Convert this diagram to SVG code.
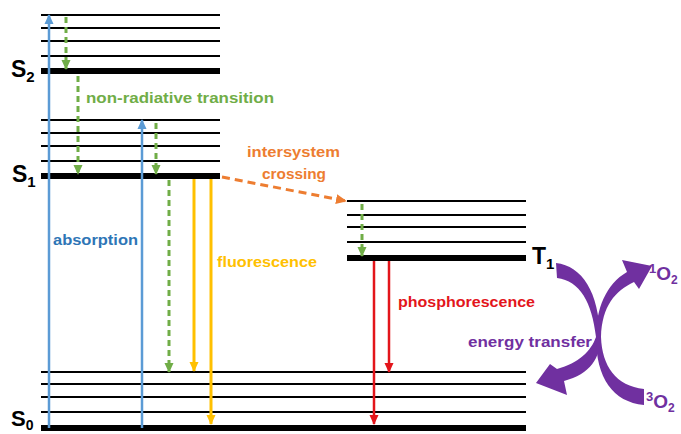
<svg xmlns="http://www.w3.org/2000/svg" width="681" height="434" viewBox="0 0 681 434">
  <style>
    .lvl { stroke: #000; stroke-width: 2; }
    .gnd { stroke: #000; stroke-width: 6; }
    .lbl { font-family: "Liberation Sans", Arial, sans-serif; font-weight: bold; fill: #000; }
    .oxy { font-family: "Liberation Sans", Arial, sans-serif; font-weight: bold; fill: #7030a0; }
    .txt { font-family: "Liberation Sans", Arial, sans-serif; font-weight: bold; font-size: 15.5px; }
    .abs { stroke: #5b9bd5; stroke-width: 2.5; fill: none; marker-end: url(#hBlue); }
    .nr { stroke: #70ad47; stroke-width: 3; stroke-dasharray: 6 4; fill: none; marker-end: url(#hGreen); }
    .fl { stroke: #ffc000; stroke-width: 3; fill: none; marker-end: url(#hYellow); }
    .ph { stroke: #e3151b; stroke-width: 2.5; fill: none; marker-end: url(#hRed); }
    .isc { stroke: #ed7d31; stroke-width: 3; stroke-dasharray: 8 5; fill: none; marker-end: url(#hOrange); }
    .et { fill: #7030a0; }
  </style>
  <defs>
    <marker id="hBlue" markerUnits="userSpaceOnUse" markerWidth="10" markerHeight="10" refX="9" refY="5" orient="auto">
      <path d="M0,0.5 L10,5 L0,9.5 Z" fill="#5b9bd5"/>
    </marker>
    <marker id="hGreen" markerUnits="userSpaceOnUse" markerWidth="10" markerHeight="10" refX="9" refY="5" orient="auto">
      <path d="M0,0.5 L10,5 L0,9.5 Z" fill="#70ad47"/>
    </marker>
    <marker id="hYellow" markerUnits="userSpaceOnUse" markerWidth="10" markerHeight="10" refX="9" refY="5" orient="auto">
      <path d="M0,0.5 L10,5 L0,9.5 Z" fill="#ffc000"/>
    </marker>
    <marker id="hRed" markerUnits="userSpaceOnUse" markerWidth="10" markerHeight="10" refX="9" refY="5" orient="auto">
      <path d="M0,0.5 L10,5 L0,9.5 Z" fill="#e3151b"/>
    </marker>
    <marker id="hOrange" markerUnits="userSpaceOnUse" markerWidth="11" markerHeight="11" refX="10" refY="5.5" orient="auto">
      <path d="M0,0.5 L11,5.5 L0,10.5 Z" fill="#ed7d31"/>
    </marker>
  </defs>

  <!-- singlet S2 manifold -->
  <g id="S2">
    <line class="lvl" x1="41" y1="15" x2="220" y2="15"/>
    <line class="lvl" x1="41" y1="28" x2="220" y2="28"/>
    <line class="lvl" x1="41" y1="41" x2="220" y2="41"/>
    <line class="lvl" x1="41" y1="56" x2="220" y2="56"/>
    <line class="gnd" x1="41" y1="71" x2="220" y2="71"/>
    <text class="lbl" x="11" y="77" font-size="23">S<tspan font-size="15" dy="5">2</tspan></text>
  </g>

  <!-- singlet S1 manifold -->
  <g id="S1">
    <line class="lvl" x1="41" y1="120" x2="220" y2="120"/>
    <line class="lvl" x1="41" y1="133" x2="220" y2="133"/>
    <line class="lvl" x1="41" y1="146" x2="220" y2="146"/>
    <line class="lvl" x1="41" y1="161" x2="220" y2="161"/>
    <line class="gnd" x1="41" y1="176" x2="220" y2="176"/>
    <text class="lbl" x="12" y="182" font-size="23">S<tspan font-size="15" dy="5">1</tspan></text>
  </g>

  <!-- triplet T1 manifold -->
  <g id="T1">
    <line class="lvl" x1="347" y1="201" x2="526" y2="201"/>
    <line class="lvl" x1="347" y1="215" x2="526" y2="215"/>
    <line class="lvl" x1="347" y1="227" x2="526" y2="227"/>
    <line class="lvl" x1="347" y1="242" x2="526" y2="242"/>
    <line class="gnd" x1="347" y1="258" x2="526" y2="258"/>
    <text class="lbl" x="532" y="264" font-size="23">T<tspan font-size="15" dy="5">1</tspan></text>
  </g>

  <!-- ground state S0 manifold -->
  <g id="S0">
    <line class="lvl" x1="41" y1="372" x2="526" y2="372"/>
    <line class="lvl" x1="41" y1="384" x2="526" y2="384"/>
    <line class="lvl" x1="41" y1="397" x2="526" y2="397"/>
    <line class="lvl" x1="41" y1="412" x2="526" y2="412"/>
    <line class="gnd" x1="41" y1="428" x2="526" y2="428"/>
    <text class="lbl" x="11" y="426" font-size="22">S<tspan font-size="14" dy="4">0</tspan></text>
  </g>

  <!-- oxygen states -->
  <g id="O2-singlet">
    <text class="oxy" x="649" y="280" font-size="19"><tspan font-size="13" dy="-7">1</tspan><tspan dy="7">O</tspan><tspan font-size="12" dy="4">2</tspan></text>
  </g>
  <g id="O2-triplet">
    <text class="oxy" x="646" y="408" font-size="19"><tspan font-size="13" dy="-7">3</tspan><tspan dy="7">O</tspan><tspan font-size="12" dy="4">2</tspan></text>
  </g>

  <!-- transitions -->
  <g id="connectors">
    <line class="abs" x1="49" y1="428" x2="49" y2="15"/>
    <line class="abs" x1="142" y1="428" x2="142" y2="120"/>

    <line class="nr" x1="66" y1="17" x2="66" y2="69"/>
    <line class="nr" x1="78" y1="76" x2="78" y2="174"/>
    <line class="nr" x1="156" y1="123" x2="156" y2="174"/>
    <line class="nr" x1="169" y1="180" x2="169" y2="372"/>
    <line class="nr" x1="362" y1="204" x2="362" y2="256"/>

    <line class="fl" x1="194" y1="179" x2="194" y2="371"/>
    <line class="fl" x1="211" y1="179" x2="211" y2="424"/>

    <line class="ph" x1="374" y1="261" x2="374" y2="424"/>
    <line class="ph" x1="389" y1="261" x2="389" y2="372"/>

    <line class="isc" x1="222" y1="177" x2="346" y2="201"/>

    <!-- energy transfer: T1 to ground, 3O2 to 1O2 -->
    <path class="et" d="M556,263 C582,266 599,292 600,337 C601,358 590,374 564,381 L567,395 L536,383 L550,364 L557,369 C579,363 591,351 596,337 C592,302 580,281 557,278 Z"/>
    <path class="et" d="M644,405 C613,402 596,378 596,337 C596,309 606,284 627,272 L622,260 L652,266 L639,289 L634,282 C615,291 602,306 601,337 C602,366 616,386 644,389 Z"/>
  </g>

  <!-- process labels -->
  <text class="txt" x="86" y="103" fill="#70ad47" textLength="188" lengthAdjust="spacingAndGlyphs">non-radiative transition</text>
  <text class="txt" x="247" y="157" fill="#ed7d31" textLength="93" lengthAdjust="spacingAndGlyphs">intersystem</text>
  <text class="txt" x="262" y="179" fill="#ed7d31" textLength="64" lengthAdjust="spacingAndGlyphs">crossing</text>
  <text class="txt" x="53" y="245" fill="#2e75b6" textLength="85" lengthAdjust="spacingAndGlyphs">absorption</text>
  <text class="txt" x="217" y="267" fill="#ffc000" textLength="100" lengthAdjust="spacingAndGlyphs">fluorescence</text>
  <text class="txt" x="398" y="307" fill="#e3151b" textLength="137" lengthAdjust="spacingAndGlyphs">phosphorescence</text>
  <text class="txt" x="468" y="347" fill="#7030a0" textLength="124" lengthAdjust="spacingAndGlyphs">energy transfer</text>
</svg>
